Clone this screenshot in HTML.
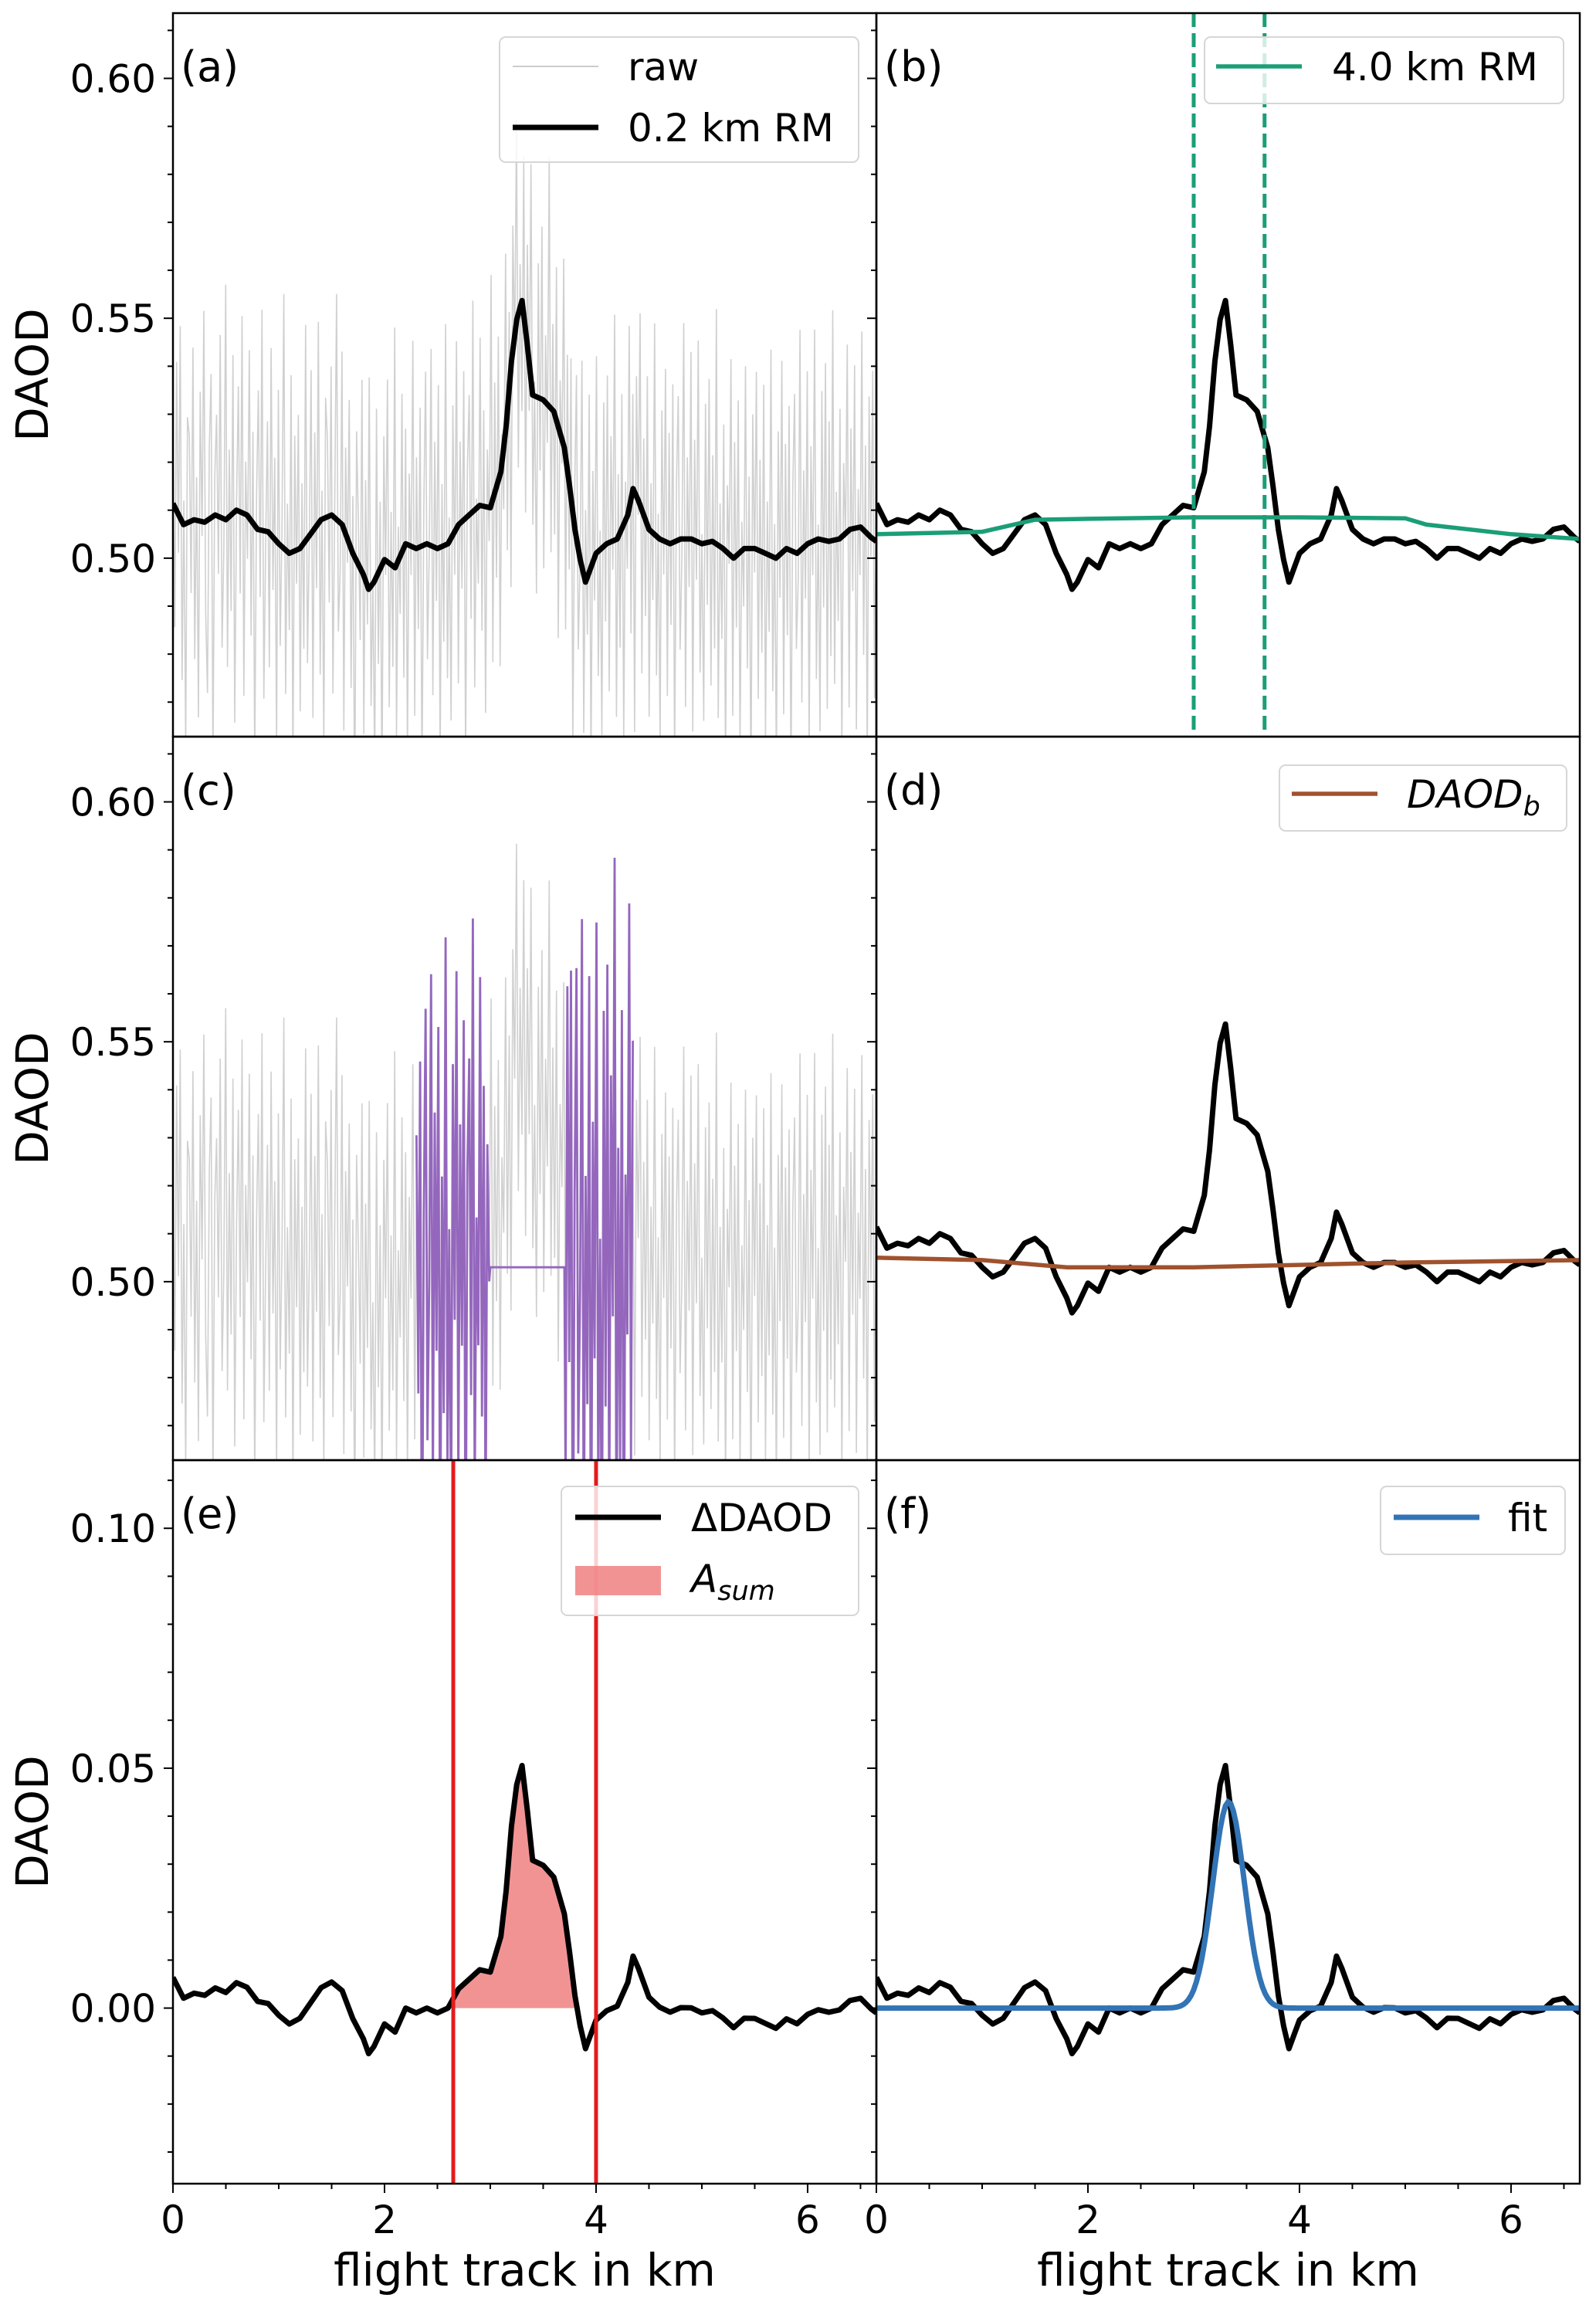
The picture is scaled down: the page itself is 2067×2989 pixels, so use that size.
<!DOCTYPE html>
<html><head><meta charset="utf-8"><style>
html,body{margin:0;padding:0;background:#fff;}
svg{display:block;font-family:"DejaVu Sans","Liberation Sans",sans-serif;}
</style></head><body>
<svg id="fig" width="2067" height="2989" viewBox="0 0 2067 2989" xmlns="http://www.w3.org/2000/svg"></svg>
<script>
// ---- data ----
const trackKm = [0,0.1,0.2,0.3,0.4,0.5,0.6,0.7,0.8,0.9,1.0,1.1,1.2,1.3,1.4,1.5,1.6,1.7,1.8,1.85,1.9,2.0,2.1,2.2,2.3,2.4,2.5,2.6,2.7,2.8,2.9,3.0,3.1,3.15,3.2,3.25,3.3,3.35,3.4,3.5,3.6,3.7,3.75,3.8,3.85,3.9,4.0,4.1,4.2,4.3,4.35,4.4,4.5,4.6,4.7,4.8,4.9,5.0,5.1,5.2,5.3,5.4,5.5,5.6,5.7,5.8,5.9,6.0,6.1,6.2,6.3,6.4,6.5,6.6,6.65];
const daodRM02 = [0.5114,0.507,0.508,0.5075,0.509,0.508,0.510,0.509,0.506,0.5055,0.503,0.501,0.502,0.505,0.508,0.509,0.507,0.501,0.4966,0.4935,0.495,0.4997,0.498,0.503,0.502,0.503,0.502,0.503,0.507,0.509,0.511,0.5105,0.518,0.5275,0.541,0.5497,0.5537,0.5445,0.534,0.533,0.5306,0.523,0.515,0.506,0.4997,0.495,0.501,0.503,0.504,0.509,0.5145,0.512,0.506,0.504,0.503,0.504,0.504,0.503,0.5035,0.502,0.500,0.502,0.502,0.501,0.500,0.502,0.501,0.503,0.504,0.5035,0.504,0.506,0.5065,0.5043,0.5035];
const bgKm = [0,1.0,1.5,2.0,3.0,4.0,5.0,5.2,6.0,6.65];
const daodRM40 = [0.505,0.5055,0.508,0.5082,0.5085,0.5085,0.5083,0.507,0.505,0.504];
const baseKm = [0,1.0,1.8,2.5,3.0,4.0,5.0,6.65];
const daodB = [0.505,0.5045,0.503,0.503,0.503,0.5035,0.504,0.5045];
const windowKm = [3.0,3.67];
const gapKm = [2.3,3.0,3.7,4.35];
const gapFill = [0.503];
const sumKm = [2.65,4.0];
const fitParams = [0.043,3.33,0.15]; // amplitude, centre km, sigma km
const rawDev = [12,-25,31,-8,40,-33,5,-47,22,18,-15,36,-29,9,-41,27,-3,44,-19,-36,15,30,-52,8,21,-12,38,-27,-6,49,-31,14,-20,33,-44,2,26,-17,41,-38,11,-9,35,-24,19,-50,7,29,-14,46,-35,-2,23,-28,39,-11,17,-43,32,-21,4,53,-30,10,-16,37,-46,24,-7,28,-34,13,-22,45,-26,-1,34,-39,20,-13,42,-32,6,-48,25,16,-18,31,-37,3,47,-23,-10,36,-42,18,-5,30,-29,12,-55,27,9,-15,40,-33,21,-8,44,-25,1,-40,35,-19,14,-47,26,-3,38,-30,11,-21,50,-36,7,-12,33,-27,24,-44,15,-6,43,-35,19,-17,29,-49,8,36,-24,-2,41,-31,22,-11,34,-45,13,-20,46,-28,5,-38,27,-9,39,-33,17,-14,31,-51,10,25,-22,44,-37,2,-16,35,-26,20,-43,12,-7,48,-34,23,-19,30,-40,6,-13,37,-29,16,-46,26,-4,42,-32,9,-23,33,-38,21,-10,45,-27,3,-41,28,-15,36,-35,14,-8,52,-30,18,-25,32,-44,11,-5,39,-36,24,-18,29,-48,7,34,-21,-1,43,-33,15,-12,37,-42,19,-9,41,-26,4,-39,30,-16,35,-31,22,-6,47,-37,13,-24,28,-45,8,-11,38,-28,20,-50,25,-3,40,-34,16,-20,31,-39,10,-14,44,-29,5,-43,27,-7,36,-32,23,-17,33,-47,12,30,-23,-4,45,-35,17,-10,39,-40,21,-8,42,-27,2,-37,29,-13,34,-30,18,-22,49,-36,9,-19,26,-46,14,-2,41,-33,24,-15,32,-41,6,-12,38,-25,15,-52,28,-5,37,-31,19,-21,35,-38,11,-16,43,-28,7,-44,26,-9,40,-34,22,-18,30,-49,13,33,-20,-6,46,-32,16,-11,36,-43,20,-7,44,-29,3,-40,31,-14,37,-35,25,-24,48,-30,10,-17,27,-45,15,-1,39,-37,21,-13,34,-42,8,-10,41,-26,18,-47,29,-4,35,-33,14];
const xTicks = [0,2,4,6];
const yTicksTop = [0.50,0.55,0.60];
const yTickLabelsTop = ["0.50","0.55","0.60"];
const yTicksBot = [0.00,0.05,0.10];
const yTickLabelsBot = ["0.00","0.05","0.10"];

// ---- layout ----
const NS="http://www.w3.org/2000/svg";
const svg=document.getElementById('fig');
const XMIN=0,XMAX=6.65;
const colL=[224,1135],W=911;
const rowT=[17,954,1891],H=937;
const yTop=[0.4628,0.6136], yBot=[-0.0366,0.1142];
const FT=50, FL=58, FG=50;
function mk(tag,attrs,parent){const e=document.createElementNS(NS,tag);for(const k in attrs)e.setAttribute(k,attrs[k]);(parent||svg).appendChild(e);return e;}
function interp(xs,ys,x){if(x<=xs[0])return ys[0];for(let i=1;i<xs.length;i++){if(x<=xs[i]){const t=(x-xs[i-1])/(xs[i]-xs[i-1]);return ys[i-1]+t*(ys[i]-ys[i-1]);}}return ys[ys.length-1];}
const rawX=rawDev.map((d,i)=>XMIN+i*(XMAX-XMIN)/(rawDev.length-1));
const rawY=rawX.map((x,i)=>interp(trackKm,daodRM02,x)+rawDev[i]/1000);

function makePanel(c,r,ylim){
  const x0=colL[c],y0=rowT[r];
  return {x0,y0,
    sx:v=>x0+(v-XMIN)/(XMAX-XMIN)*W,
    sy:v=>y0+H-(v-ylim[0])/(ylim[1]-ylim[0])*H, ylim};
}
function clip(p,id){const d=mk('defs',{});const cp=mk('clipPath',{id},d);mk('rect',{x:p.x0,y:p.y0,width:W,height:H},cp);return mk('g',{'clip-path':`url(#${id})`});}
function path(g,xs,ys,p,style,name){
  let d='';xs.forEach((x,i)=>{d+=(i?'L':'M')+p.sx(x).toFixed(1)+','+p.sy(ys[i]).toFixed(1);});
  const e=mk('path',Object.assign({d,fill:'none'},style),g);
  
  
  return e;
}
function axes(p,c,r,ticks,labels){
  const g=mk('g',{});
  
  
  mk('rect',{x:p.x0,y:p.y0,width:W,height:H,fill:'none',stroke:'#000','stroke-width':2.5},g);
  const step=0.01;
  for(let v=Math.ceil(p.ylim[0]/step)*step;v<=p.ylim[1];v+=step){
    const vv=Math.round(v*100)/100;const major=ticks.some(t=>Math.abs(t-vv)<1e-6);
    const y=p.sy(vv);
    mk('line',{x1:p.x0,x2:p.x0-(major?12:7),y1:y,y2:y,stroke:'#000','stroke-width':2},g);
  }
  if(c===0){ticks.forEach((t,i)=>{const tx=mk('text',{x:p.x0-22,y:p.sy(t)+18,'text-anchor':'end','font-size':FT},g);tx.textContent=labels[i];
    });
    const yl=mk('text',{x:0,y:0,'text-anchor':'middle','font-size':FL,transform:`translate(62,${p.y0+H/2}) rotate(-90)`},g);yl.textContent='DAOD';
    }
  if(r===2){
    for(let v=0;v<=XMAX;v+=0.5){const x=p.sx(v);const major=Math.abs(v-Math.round(v/2)*2)<1e-6;
      mk('line',{x1:x,x2:x,y1:p.y0+H,y2:p.y0+H+(major?12:7),stroke:'#000','stroke-width':2},g);}
    xTicks.forEach(t=>{const tx=mk('text',{x:p.sx(t),y:p.y0+H+64,'text-anchor':'middle','font-size':FT},g);tx.textContent=String(t);
      });
    const xl=mk('text',{x:p.x0+W/2,y:p.y0+H+132,'text-anchor':'middle','font-size':FL},g);xl.textContent='flight track in km';
    
  }
}
function label(p,t){const e=mk('text',{x:p.x0+10,y:p.y0+88,'font-size':54});e.textContent=t;
  }
function legend(x,y,w,h,name){const g=mk('g',{});
  mk('rect',{x,y,width:w,height:h,rx:8,fill:'#fff','fill-opacity':0.8,stroke:'#d6d6d6','stroke-width':2},g);return g;}

const black={stroke:'#000','stroke-width':7,'stroke-linejoin':'round'};
const gray={stroke:'#c4c4c4','stroke-width':1.6,'stroke-opacity':0.8};

// (a)
let p=makePanel(0,0,yTop);let g=clip(p,'ca');
path(g,rawX,rawY,p,gray,'raw-series');
path(g,trackKm,daodRM02,p,black,'rm02-series');
axes(p,0,0,yTicksTop,yTickLabelsTop);label(p,'(a)');
let lg=legend(647,48,465,162,'legend-a');
mk('line',{x1:664,x2:775,y1:86,y2:86,stroke:'#ccc','stroke-width':2},lg);
let t=mk('text',{x:813,y:104,'font-size':FG},lg);t.textContent='raw';
mk('line',{x1:664,x2:775,y1:165,y2:165,stroke:'#000','stroke-width':7},lg);
t=mk('text',{x:813,y:183,'font-size':FG},lg);t.textContent='0.2 km RM';

// (b)
p=makePanel(1,0,yTop);g=clip(p,'cb');
path(g,trackKm,daodRM02,p,black,'rm02-series');
path(g,bgKm,daodRM40,p,{stroke:'#1b9e77','stroke-width':5.5},'rm40-series');
windowKm.forEach(k=>{const l=mk('line',{x1:p.sx(k),x2:p.sx(k),y1:p.y0,y2:p.y0+H,stroke:'#1b9e77','stroke-width':5,'stroke-dasharray':'18,8'},g);
  });
axes(p,1,0,yTicksTop,yTickLabelsTop);label(p,'(b)');
lg=legend(1560,48,465,86,'legend-b');
mk('line',{x1:1575,x2:1686,y1:86,y2:86,stroke:'#1b9e77','stroke-width':5.5},lg);
t=mk('text',{x:1725,y:104,'font-size':FG},lg);t.textContent='4.0 km RM';

// (c)
p=makePanel(0,1,yTop);g=clip(p,'cc');
path(g,rawX,rawY,p,gray,'raw-series');
const sel=(a,b)=>rawX.map((x,i)=>i).filter(i=>rawX[i]>=a&&rawX[i]<=b);
const i1=sel(gapKm[0],gapKm[1]),i2=sel(gapKm[2],gapKm[3]);
const px=[...i1.map(i=>rawX[i]),gapKm[1],gapKm[2],...i2.map(i=>rawX[i])];
const py=[...i1.map(i=>rawY[i]+rawDev[i]/1000*0.5),gapFill[0],gapFill[0],...i2.map(i=>rawY[i]+rawDev[i]/1000*0.8)];
path(g,px,py,p,{stroke:'#9467bd','stroke-width':2.8},'masked-raw-series');
axes(p,0,1,yTicksTop,yTickLabelsTop);label(p,'(c)');

// (d)
p=makePanel(1,1,yTop);g=clip(p,'cd');
path(g,trackKm,daodRM02,p,black,'rm02-series');
path(g,baseKm,daodB,p,{stroke:'#a0522d','stroke-width':5.5},'background-series');
axes(p,1,1,yTicksTop,yTickLabelsTop);label(p,'(d)');
lg=legend(1657,991,372,85,'legend-d');
mk('line',{x1:1673,x2:1784,y1:1028,y2:1028,stroke:'#a0522d','stroke-width':5.5},lg);
t=mk('text',{x:1822,y:1046,'font-size':FG,'font-style':'italic'},lg);t.textContent='DAOD';
let ts=mk('tspan',{'font-size':35,dy:10},t);ts.textContent='b';

const dY=trackKm.map((x,i)=>daodRM02[i]-interp(baseKm,daodB,x));

// (e)
p=makePanel(0,2,yBot);g=clip(p,'ce');
let fx=[sumKm[0],...trackKm.filter(x=>x>sumKm[0]&&x<sumKm[1]),sumKm[1]];
let fy=fx.map(x=>Math.max(0,interp(trackKm,daodRM02,x)-interp(baseKm,daodB,x)));
let fd='M'+p.sx(fx[0])+','+p.sy(0);fx.forEach((x,i)=>{fd+='L'+p.sx(x).toFixed(1)+','+p.sy(fy[i]).toFixed(1);});fd+='L'+p.sx(fx[fx.length-1])+','+p.sy(0)+'Z';
let fe=mk('path',{d:fd,fill:'#f08080','fill-opacity':0.85},g);

path(g,trackKm,dY,p,black,'delta-daod-series');
sumKm.forEach(k=>{const l=mk('line',{x1:p.sx(k),x2:p.sx(k),y1:p.y0,y2:p.y0+H,stroke:'#e41a1c','stroke-width':5},g);
  });
axes(p,0,2,yTicksBot,yTickLabelsBot);label(p,'(e)');
lg=legend(727,1925,385,167,'legend-e');
mk('line',{x1:745,x2:856,y1:1965,y2:1965,stroke:'#000','stroke-width':7},lg);
t=mk('text',{x:895,y:1983,'font-size':FG},lg);t.textContent='ΔDAOD';
mk('rect',{x:745,y:2028,width:111,height:38,fill:'#f08080','fill-opacity':0.85},lg);
t=mk('text',{x:895,y:2062,'font-size':FG,'font-style':'italic'},lg);t.textContent='A';
ts=mk('tspan',{'font-size':35,dy:10},t);ts.textContent='sum';

// (f)
p=makePanel(1,2,yBot);g=clip(p,'cf');
path(g,trackKm,dY,p,black,'delta-daod-series');
const fitX=[];for(let i=0;i<=266;i++)fitX.push(i*XMAX/266);
const fitY=fitX.map(x=>fitParams[0]*Math.exp(-0.5*Math.pow((x-fitParams[1])/fitParams[2],2)));
path(g,fitX,fitY,p,{stroke:'#3274b5','stroke-width':7},'fit-series');
axes(p,1,2,yTicksBot,yTickLabelsBot);label(p,'(f)');
lg=legend(1788,1925,239,88,'legend-f');
mk('line',{x1:1805,x2:1916,y1:1965,y2:1965,stroke:'#3274b5','stroke-width':7},lg);
t=mk('text',{x:1953,y:1983,'font-size':FG},lg);t.textContent='fit';
</script>
</body></html>
